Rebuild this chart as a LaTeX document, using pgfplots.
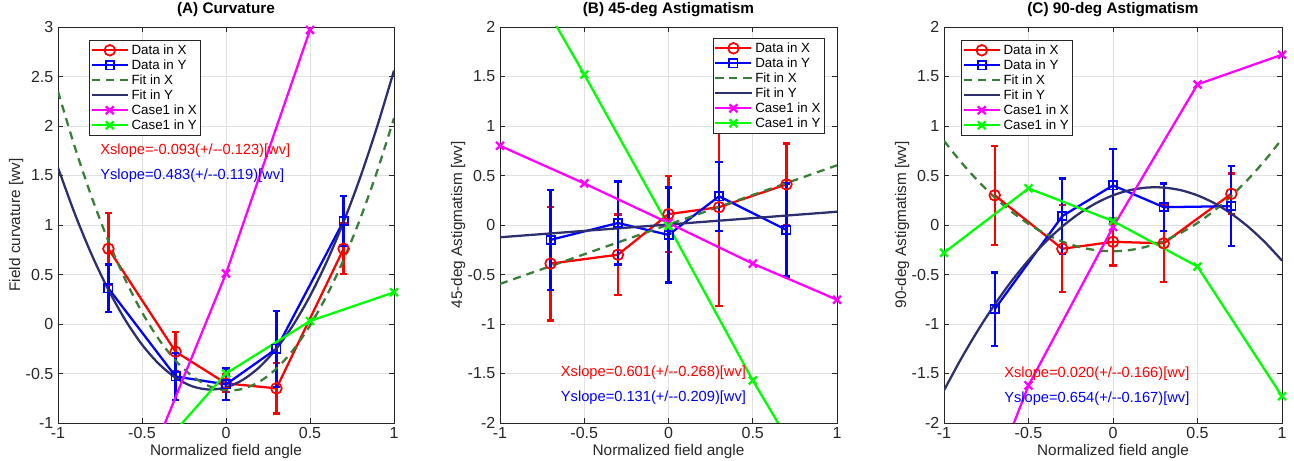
\documentclass[border=0pt]{standalone}
\usepackage{fontspec}
\setmainfont{Liberation Sans}
\usepackage{pgfplots}
\pgfplotsset{compat=1.18}
\definecolor{fitx}{RGB}{56,125,56}
\definecolor{fity}{RGB}{44,46,110}
\definecolor{axgray}{RGB}{38,38,38}
\definecolor{gridc}{RGB}{225,225,225}
\definecolor{mag}{RGB}{255,0,255}
\definecolor{lgreen}{RGB}{0,255,0}
\pgfplotsset{
 mystyle/.style={
  scale only axis, height=297pt,
  xmin=-1, xmax=1, xtick={-1,-0.5,0,0.5,1},
  grid=major, major grid style={gridc, line width=0.6pt},
  axis line style={axgray, line width=0.6pt},
  every tick/.style={axgray, line width=0.6pt},
  major tick length=4pt,
  tick align=inside, xtick pos=both, ytick pos=both,
  tick label style={font=\fontsize{12}{12}\selectfont, text=axgray},
  label style={font=\fontsize{11.5}{12}\selectfont, text=axgray},
  title style={font=\bfseries\fontsize{11.5}{12}\selectfont, yshift=-2pt},
  xlabel={Normalized field angle},
  xlabel shift={-3pt}, ylabel shift={-5pt},
  /pgf/number format/assume math mode=true,
  legend style={font=\fontsize{10}{10.5}\selectfont, draw=axgray, line width=0.6pt, inner sep=1pt, row sep=-1.5pt, cells={anchor=west}, fill=white},
  legend image code/.code={\draw[mark repeat=2,mark phase=2] plot coordinates {(0pt,0pt) (13.5pt,0pt) (27pt,0pt)};},
 },
 dx/.style={red, line width=1.7pt, mark=o, mark size=4pt, mark options={solid, line width=1.3pt},
   error bars/y dir=both, error bars/y explicit,
   error bars/error bar style={line width=1.7pt, red},
   error bars/error mark options={rotate=90, line width=1.7pt, mark size=2.8pt, red}},
 dy/.style={blue, line width=1.7pt, mark=square, mark size=3.1pt, mark options={solid, line width=1.3pt},
   error bars/y dir=both, error bars/y explicit,
   error bars/error bar style={line width=1.7pt, blue},
   error bars/error mark options={rotate=90, line width=1.7pt, mark size=2.8pt, blue}},
 fx/.style={fitx, line width=1.7pt, dash pattern=on 6pt off 4.5pt, no marks, smooth},
 fy/.style={fity, line width=1.7pt, no marks, smooth},
 cx/.style={mag, line width=1.7pt, mark=x, mark size=4.2pt, mark options={solid}},
 cy/.style={lgreen, line width=1.7pt, mark=x, mark size=4.2pt, mark options={solid}},
}
\begin{document}
\begin{tikzpicture}
\useasboundingbox (0,0) rectangle (970.5pt,345pt);
% ---------------- (A) ----------------
\begin{axis}[mystyle, at={(43.5pt,27.75pt)}, anchor=south west, width=252pt,
  ymin=-1, ymax=3, ytick={-1,-0.5,0,0.5,1,1.5,2,2.5,3},
  title={(A) Curvature}, ylabel={Field curvature [wv]},
  legend style={at={(0.092,0.967)}, anchor=north west}]
\addplot[dx] coordinates {(-0.7,0.76) +- (0,0.36) (-0.3,-0.28) +- (0,0.2) (0,-0.60) +- (0,0.09) (0.3,-0.65) +- (0,0.255) (0.7,0.76) +- (0,0.255)};
\addplot[dy] coordinates {(-0.7,0.36) +- (0,0.24) (-0.3,-0.53) +- (0,0.24) (0,-0.61) +- (0,0.16) (0.3,-0.25) +- (0,0.385) (0.7,1.04) +- (0,0.25)};
\addplot[fx] coordinates {(-1,2.350) (-0.9,1.788) (-0.8,1.284) (-0.7,0.838) (-0.6,0.450) (-0.5,0.119) (-0.4,-0.154) (-0.3,-0.370) (-0.2,-0.528) (-0.1,-0.628) (0,-0.670) (0.1,-0.655) (0.2,-0.582) (0.3,-0.451) (0.4,-0.262) (0.5,-0.016) (0.6,0.288) (0.7,0.649) (0.8,1.068) (0.9,1.545) (1,2.080)};
\addplot[fy] coordinates {(-1,1.580) (-0.9,1.114) (-0.8,0.702) (-0.7,0.345) (-0.6,0.042) (-0.5,-0.208) (-0.4,-0.402) (-0.3,-0.543) (-0.2,-0.630) (-0.1,-0.662) (0,-0.640) (0.1,-0.564) (0.2,-0.434) (0.3,-0.249) (0.4,-0.010) (0.5,0.283) (0.6,0.630) (0.7,1.031) (0.8,1.486) (0.9,1.996) (1,2.560)};
\addplot[cx] coordinates {(-0.5,-1.57) (0,0.51) (0.5,2.97)};
\addplot[cy] coordinates {(-0.5,-1.46) (0,-0.50) (0.5,0.03) (1,0.32)};
\legend{Data in X, Data in Y, Fit in X, Fit in Y, Case1 in X, Case1 in Y}
\node[anchor=west, text=red, font=\fontsize{11}{11}\selectfont, inner sep=0pt] at (axis cs:-0.75,1.75) {Xslope=-0.093(+/-{}-0.123)[wv]};
\node[anchor=west, text=blue, font=\fontsize{11}{11}\selectfont, inner sep=0pt] at (axis cs:-0.75,1.50) {Yslope=0.483(+/-{}-0.119)[wv]};
\end{axis}
% ---------------- (B) ----------------
\begin{axis}[mystyle, at={(375pt,27.75pt)}, anchor=south west, width=252.75pt,
  ymin=-2, ymax=2, ytick={-2,-1.5,-1,-0.5,0,0.5,1,1.5,2},
  title={(B) 45-deg Astigmatism}, ylabel={45-deg Astigmatism [wv]},
  legend style={at={(0.964,0.972)}, anchor=north east}]
\addplot[dx] coordinates {(-0.7,-0.39) +- (0,0.575) (-0.3,-0.30) +- (0,0.405) (0,0.11) +- (0,0.385) (0.3,0.18) +- (0,1.0) (0.7,0.41) +- (0,0.413)};
\addplot[dy] coordinates {(-0.7,-0.15) +- (0,0.505) (-0.3,0.02) +- (0,0.42) (0,-0.10) +- (0,0.48) (0.3,0.29) +- (0,0.35) (0.7,-0.05) +- (0,0.47)};
\addplot[fx] coordinates {(-1,-0.595) (1,0.603)};
\addplot[fy] coordinates {(-1,-0.124) (1,0.134)};
\addplot[cx] coordinates {(-1,0.80) (-0.5,0.42) (0,0.02) (0.5,-0.39) (1,-0.755)};
\addplot[cy] coordinates {(-1,3.0) (-0.5,1.52) (0,-0.01) (0.5,-1.57) (1,-3.0)};
\legend{Data in X, Data in Y, Fit in X, Fit in Y, Case1 in X, Case1 in Y}
\node[anchor=west, text=red, font=\fontsize{11}{11}\selectfont, inner sep=0pt] at (axis cs:-0.64,-1.49) {Xslope=0.601(+/-{}-0.268)[wv]};
\node[anchor=west, text=blue, font=\fontsize{11}{11}\selectfont, inner sep=0pt] at (axis cs:-0.64,-1.74) {Yslope=0.131(+/-{}-0.209)[wv]};
\end{axis}
% ---------------- (C) ----------------
\begin{axis}[mystyle, at={(708pt,27.75pt)}, anchor=south west, width=253.5pt,
  ymin=-2, ymax=2, ytick={-2,-1.5,-1,-0.5,0,0.5,1,1.5,2},
  title={(C) 90-deg Astigmatism}, ylabel={90-deg Astigmatism [wv]},
  legend style={at={(0.05,0.967)}, anchor=north west}]
\addplot[dx] coordinates {(-0.7,0.30) +- (0,0.50) (-0.3,-0.24) +- (0,0.44) (0,-0.17) +- (0,0.24) (0.3,-0.185) +- (0,0.39) (0.7,0.315) +- (0,0.205)};
\addplot[dy] coordinates {(-0.7,-0.85) +- (0,0.37) (-0.3,0.09) +- (0,0.38) (0,0.40) +- (0,0.365) (0.3,0.18) +- (0,0.24) (0.7,0.19) +- (0,0.405)};
\addplot[fx] coordinates {(-1,0.850) (-0.9,0.637) (-0.8,0.447) (-0.7,0.279) (-0.6,0.134) (-0.5,0.011) (-0.4,-0.089) (-0.3,-0.167) (-0.2,-0.222) (-0.1,-0.255) (0,-0.265) (0.1,-0.253) (0.2,-0.218) (0.3,-0.161) (0.4,-0.081) (0.5,0.021) (0.6,0.146) (0.7,0.293) (0.8,0.463) (0.9,0.655) (1,0.870)};
\addplot[fy] coordinates {(-1,-1.670) (-0.9,-1.355) (-0.8,-1.066) (-0.7,-0.803) (-0.6,-0.566) (-0.5,-0.356) (-0.4,-0.172) (-0.3,-0.015) (-0.2,0.116) (-0.1,0.221) (0,0.300) (0.1,0.352) (0.2,0.378) (0.3,0.378) (0.4,0.352) (0.5,0.299) (0.6,0.220) (0.7,0.114) (0.8,-0.018) (0.9,-0.176) (1,-0.360)};
\addplot[cx] coordinates {(-1,-3.82) (-0.5,-1.62) (0,-0.02) (0.5,1.42) (1,1.72)};
\addplot[cy] coordinates {(-1,-0.28) (-0.5,0.37) (0,0.04) (0.5,-0.42) (1,-1.73)};
\legend{Data in X, Data in Y, Fit in X, Fit in Y, Case1 in X, Case1 in Y}
\node[anchor=west, text=red, font=\fontsize{11}{11}\selectfont, inner sep=0pt] at (axis cs:-0.645,-1.50) {Xslope=0.020(+/-{}-0.166)[wv]};
\node[anchor=west, text=blue, font=\fontsize{11}{11}\selectfont, inner sep=0pt] at (axis cs:-0.645,-1.75) {Yslope=0.654(+/-{}-0.167)[wv]};
\end{axis}
\end{tikzpicture}
\end{document}
